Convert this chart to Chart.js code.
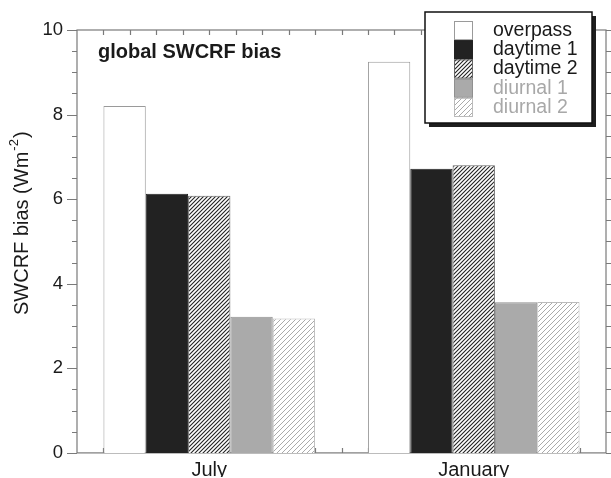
<!DOCTYPE html>
<html>
<head>
<meta charset="utf-8">
<script src="https://cdn.jsdelivr.net/npm/chart.js@4.4.1/dist/chart.umd.min.js"></script>
<style>
  html, body { margin: 0; padding: 0; background: #fff; }
  #wrap { width: 611px; height: 478px; }
</style>
</head>
<body>
<div id="wrap"><canvas id="myChart"></canvas></div>
<script>
/* globals Chart:false */

const categories = ['July', 'January']
const seriesNames = ['overpass', 'daytime 1', 'daytime 2', 'diurnal 1', 'diurnal 2']
const overpass = [8.2, 9.25]
const daytime1 = [6.13, 6.72]
const daytime2 = [6.08, 6.8]
const diurnal1 = [3.22, 3.56]
const diurnal2 = [3.18, 3.57]
const yMin = 0
const yMax = 10
const yStep = 2

;(() => {
  'use strict'

  const FONT = '"Liberation Sans", Arial, Helvetica, sans-serif'

  // diagonal hatch fill
  function hatch (color, size, width) {
    const c = document.createElement('canvas')
    c.width = size
    c.height = size
    const g = c.getContext('2d')
    g.fillStyle = '#fff'
    g.fillRect(0, 0, size, size)
    g.strokeStyle = color
    g.lineWidth = width
    g.beginPath()
    g.moveTo(0, size)
    g.lineTo(size, 0)
    g.moveTo(-size / 2, size / 2)
    g.lineTo(size / 2, -size / 2)
    g.moveTo(size / 2, size * 1.5)
    g.lineTo(size * 1.5, size / 2)
    g.stroke()
    return g.createPattern(c, 'repeat')
  }

  const fills = ['#ffffff', '#222222', hatch('#222', 4, 1.1), '#aaaaaa', hatch('#aaa', 5, 1)]
  const borders = ['#9a9a9a', '#222222', '#666666', '#909090', '#bbbbbb']
  const textColors = ['#1a1a1a', '#1a1a1a', '#1a1a1a', '#a8a8a8', '#a8a8a8']
  const values = [overpass, daytime1, daytime2, diurnal1, diurnal2]

  // frame, minor ticks, y title, panel title, legend
  const frame = {
    id: 'frame',
    beforeDatasetsDraw (chart) {
      const { ctx, chartArea: a, scales: { y } } = chart
      ctx.save()
      ctx.strokeStyle = '#7a7a7a'
      ctx.lineWidth = 1.2
      ctx.beginPath()
      for (let v = yMin; v <= yMax + 1e-9; v += 0.5) {
        const py = Math.round(y.getPixelForValue(v)) + 0.5
        const len = v % yStep === 0 ? 10 : 5
        ctx.moveTo(a.left - len, py)
        ctx.lineTo(a.left, py)
        ctx.moveTo(a.right, py)
        ctx.lineTo(a.right + 5, py)
      }
      for (let i = 1; i < 20; i++) {
        const px = Math.round(a.left + a.width * i / 20) + 0.5
        ctx.moveTo(px, a.top)
        ctx.lineTo(px, a.top + 5)
        ctx.moveTo(px, a.bottom)
        ctx.lineTo(px, a.bottom - 5)
      }
      ctx.stroke()
      ctx.strokeRect(a.left, a.top, a.width, a.height)

      // y axis title with superscript
      ctx.fillStyle = '#1a1a1a'
      ctx.textBaseline = 'alphabetic'
      ctx.translate(28, 315)
      ctx.rotate(-Math.PI / 2)
      ctx.font = '20px ' + FONT
      const main = 'SWCRF bias (Wm'
      ctx.fillText(main, 0, 0)
      let w = ctx.measureText(main).width + 1
      ctx.font = '13px ' + FONT
      ctx.fillText('-2', w, -10)
      w += ctx.measureText('-2').width + 1
      ctx.font = '20px ' + FONT
      ctx.fillText(')', w, 0)
      ctx.restore()
    },
    afterDraw (chart) {
      const { ctx, chartArea: a } = chart
      ctx.save()
      ctx.font = 'bold 20px ' + FONT
      ctx.fillStyle = '#1a1a1a'
      ctx.textBaseline = 'alphabetic'
      ctx.fillText('global SWCRF bias', a.left + 21, a.top + 28)

      // legend box with drop shadow
      const bx = 425
      const by = 12
      const bw = 167
      const bh = 111
      ctx.fillStyle = '#1e1e1e'
      ctx.fillRect(bx + 4, by + 4, bw, bh)
      ctx.fillStyle = '#fff'
      ctx.fillRect(bx, by, bw, bh)
      ctx.strokeStyle = '#111'
      ctx.lineWidth = 1.5
      ctx.strokeRect(bx, by, bw, bh)

      ctx.font = '19.5px ' + FONT
      const rowH = 19.2
      chart.data.datasets.forEach((ds, i) => {
        const top = by + 9 + i * rowH
        ctx.fillStyle = ds.backgroundColor
        ctx.fillRect(bx + 29, top, 19, rowH)
        ctx.strokeStyle = ds.borderColor
        ctx.lineWidth = 1
        ctx.strokeRect(bx + 29.5, top + 0.5, 18, rowH - 1)
        ctx.fillStyle = textColors[i]
        ctx.fillText(ds.label, bx + 68, top + 15)
      })
      ctx.restore()
    }
  }

  const ctx = document.getElementById('myChart')

  // eslint-disable-next-line no-unused-vars
  const myChart = new Chart(ctx, {
    type: 'bar',
    plugins: [frame],
    data: {
      labels: categories,
      datasets: seriesNames.map((name, i) => ({
        label: name,
        data: values[i],
        backgroundColor: fills[i],
        borderColor: borders[i],
        borderWidth: 1,
        barPercentage: 1,
        categoryPercentage: 0.8,
      }))
    },
    options: {
      responsive: true,
      maintainAspectRatio: false,
      animation: false,
      layout: {
        padding: { top: 30, right: 5, bottom: 0, left: 0 }
      },
      plugins: {
        legend: { display: false },
        tooltip: { enabled: false },
      },
      scales: {
        x: {
          grid: { display: false, drawTicks: false },
          border: { display: false },
          ticks: {
            color: '#1a1a1a',
            padding: 6,
            font: { family: FONT, size: 20 },
          },
          afterFit (scale) { scale.height = 24 },
        },
        y: {
          min: yMin,
          max: yMax,
          grid: { display: false, drawTicks: false },
          border: { display: false },
          ticks: {
            stepSize: yStep,
            color: '#1a1a1a',
            padding: 14,
            font: { family: FONT, size: 18.5 },
          },
          afterFit (scale) { scale.width = 77 },
        },
      },
    }
  })
})()
</script>
</body>
</html>
